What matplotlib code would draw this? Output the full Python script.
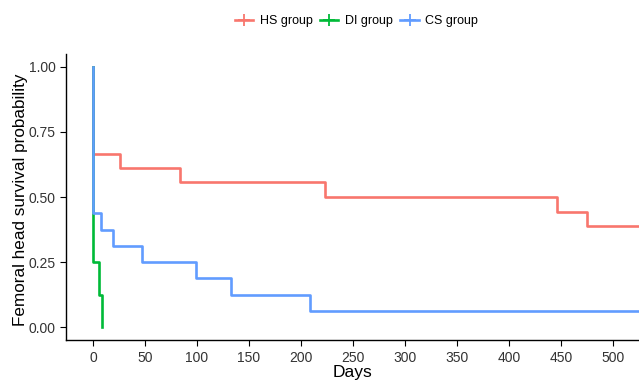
import matplotlib.pyplot as plt
from matplotlib.lines import Line2D

plt.rcParams['font.family'] = ['Liberation Sans', 'DejaVu Sans']

# Kaplan-Meier step data (days, survival)
hs_days = [0, 0, 26, 84, 223, 446, 475, 525]
hs_surv = [1.0, 0.667, 0.611, 0.556, 0.5, 0.444, 0.389, 0.389]

di_days = [0, 0, 6, 9, 9]
di_surv = [1.0, 0.25, 0.125, 0.0, 0.0]

cs_days = [0, 0, 8, 19, 47, 99, 133, 209, 525]
cs_surv = [1.0, 0.4375, 0.375, 0.3125, 0.25, 0.1875, 0.125, 0.0625, 0.0625]

groups = ['HS group', 'DI group', 'CS group']
colors = ['#F8766D', '#00BA38', '#619CFF']

fig = plt.figure(figsize=(6.39, 3.80), dpi=100)
ax = fig.add_axes([0.1033, 0.105, 0.8967, 0.753])

for d, s, c in zip([hs_days, di_days, cs_days], [hs_surv, di_surv, cs_surv], colors):
    ax.step(d, s, where='post', color=c, lw=1.9)

ax.set_xlim(-26, 525)
ax.set_ylim(-0.05, 1.05)
ax.set_xticks(range(0, 501, 50))
ax.set_yticks([0, 0.25, 0.5, 0.75, 1.0])
ax.set_yticklabels(['0.00', '0.25', '0.50', '0.75', '1.00'])
ax.tick_params(labelsize=10, length=4, width=0.8, labelcolor='#333333')

for side in ['top', 'right']:
    ax.spines[side].set_visible(False)
for side in ['left', 'bottom']:
    ax.spines[side].set_linewidth(1.0)

ax.set_ylabel('Femoral head survival probability', fontsize=12.3)
ax.yaxis.set_label_coords(-0.066, 0.49)
ax.set_xlabel('Days', fontsize=12.5, labelpad=0)

handles = [Line2D([0], [0], color=c, lw=1.9, marker='+', markersize=8, markeredgewidth=1.3)
           for c in colors]
fig.legend(handles, groups, loc='center', bbox_to_anchor=(0.558, 0.945), ncol=3,
           frameon=False, fontsize=9, handlelength=1.45, handletextpad=0.55, columnspacing=0.6)

fig.savefig('out.png', dpi=100)
